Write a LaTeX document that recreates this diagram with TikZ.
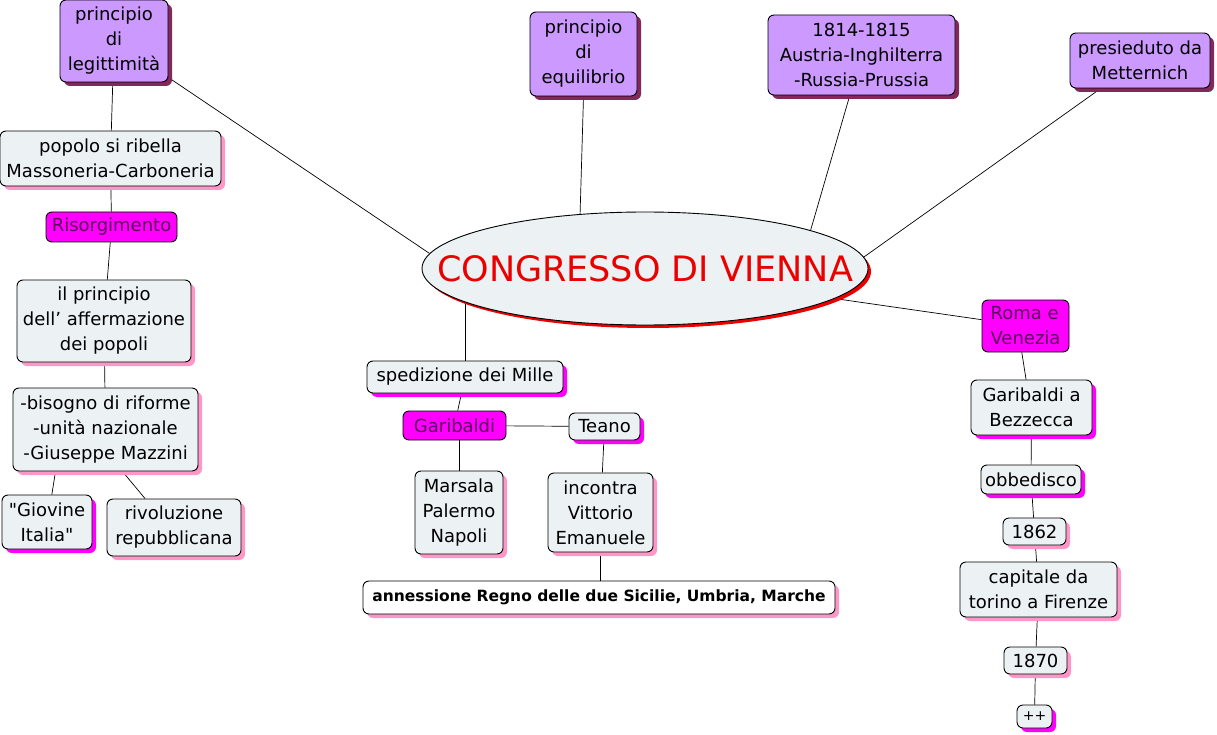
\documentclass[tikz,border=0pt]{standalone}
\usepackage{fontspec}
\setmainfont{DejaVu Sans}
\usepackage{tikz}
\usetikzlibrary{shapes.geometric,shadows,backgrounds}
\definecolor{lilla}{RGB}{204,153,255}
\definecolor{prugna}{RGB}{130,40,90}
\definecolor{ghiaccio}{RGB}{236,242,244}
\definecolor{rosa}{RGB}{255,150,200}
\definecolor{fucsia}{RGB}{255,0,255}
\definecolor{viola}{RGB}{90,0,90}
\definecolor{rosso}{RGB}{235,0,0}

\begin{document}
\begin{tikzpicture}[x=1pt,y=-1pt,
    every node/.style={font=\fontsize{18}{25}\selectfont, align=center, inner sep=0pt},
    box/.style={draw, line width=0.9pt, rounded corners=6pt},
    ombra/.style={drop shadow={shadow xshift=4pt, shadow yshift=-4pt, fill=#1, opacity=1}},
    lillabox/.style={box, fill=lilla, ombra=prugna},
    chiarobox/.style={box, fill=ghiaccio, ombra=rosa},
    fucsiabox/.style={box, fill=ghiaccio, ombra=fucsia},
    chiavebox/.style={box, fill=fucsia, text=viola},
    ramo/.style={line width=0.7pt}]
  \useasboundingbox (0,0) rectangle (1217,735);

  \node [ellipse, draw, line width=0.9pt, fill=ghiaccio, minimum width=446, minimum height=113,
         drop shadow={shadow xshift=3pt, shadow yshift=-3pt, fill=rosso, opacity=1},
         label={[text=rosso, font=\fontsize{35}{40}\selectfont]center:CONGRESSO DI VIENNA}] (vienna) at (645,268.5) {};

  \node [lillabox, minimum width=108, minimum height=82] (legittimita) at (114,41) {principio\\di\\legittimità};
  \node [lillabox, minimum width=107, minimum height=84] (equilibrio) at (583.5,54) {principio\\di\\equilibrio};
  \node [lillabox, minimum width=187, minimum height=80] (potenze) at (861.5,55) {1814-1815\\Austria-Inghilterra\\-Russia-Prussia};
  \node [lillabox, minimum width=140, minimum height=55] (metternich) at (1140,60.5) {presieduto da\\Metternich};

  \node [chiarobox, minimum width=221, minimum height=55] (popolo) at (110.5,158.5) {popolo si ribella\\Massoneria-Carboneria};
  \node [chiavebox, minimum width=131, minimum height=30] (risorgimento) at (111.5,227) {Risorgimento};
  \node [chiarobox, minimum width=174, minimum height=82] (affermazione) at (104,321) {il principio\\dell' affermazione\\dei popoli};
  \node [chiarobox, minimum width=185, minimum height=83] (bisogno) at (105.5,429.5) {-bisogno di riforme\\-unità nazionale\\-Giuseppe Mazzini};
  \node [fucsiabox, minimum width=90, minimum height=54] (giovine) at (47,522) {\textquotedbl Giovine\\Italia\textquotedbl};
  \node [chiarobox, minimum width=134, minimum height=57] (rivoluzione) at (174,527.5) {rivoluzione\\repubblicana};

  \node [fucsiabox, minimum width=196, minimum height=32] (mille) at (465,377) {spedizione dei Mille};
  \node [chiavebox, minimum width=103, minimum height=29] (garibaldi) at (454.5,425.5) {Garibaldi};
  \node [fucsiabox, minimum width=71, minimum height=27] (teano) at (604.5,426.5) {Teano};
  \node [chiarobox, minimum width=88, minimum height=83] (marsala) at (459,512.5) {Marsala\\Palermo\\Napoli};
  \node [chiarobox, minimum width=105, minimum height=79] (incontra) at (600.5,512.5) {incontra\\Vittorio\\Emanuele};
  \node [chiarobox, fill=white, minimum width=472, minimum height=33,
         font=\fontsize{15.5}{20}\selectfont\bfseries] (annessione) at (599,597.5) {annessione Regno delle due Sicilie, Umbria, Marche};

  \node [chiavebox, minimum width=87, minimum height=52, align=left] (roma) at (1025.5,326) {Roma e\\Venezia};
  \node [fucsiabox, minimum width=121, minimum height=55] (bezzecca) at (1031.5,407.5) {Garibaldi a\\Bezzecca};
  \node [fucsiabox, minimum width=100, minimum height=29] (obbedisco) at (1031,479.5) {obbedisco};
  \node [chiarobox, minimum width=63, minimum height=27] (a1862) at (1034.5,531.5) {1862};
  \node [chiarobox, minimum width=157, minimum height=55] (capitale) at (1038.5,589.5) {capitale da\\torino a Firenze};
  \node [chiarobox, minimum width=63, minimum height=27] (a1870) at (1035.5,660.5) {1870};
  \node [fucsiabox, minimum width=35, minimum height=23, font=\fontsize{14}{16}\selectfont] (piu) at (1034.5,716.5) {++};

  \begin{scope}[on background layer]
    \draw [ramo] (vienna.176) -- (legittimita);
    \draw [ramo] (vienna.140) -- (equilibrio.south);
    \draw [ramo] (vienna.13) -- (potenze);
    \draw [ramo] (vienna.3) -- (metternich);
    \draw [ramo] (vienna.-9) -- (roma);
    \draw [ramo] (mille.north) -- (mille.north |- vienna.center);

    \draw [ramo] (legittimita) -- (popolo);
    \draw [ramo] (popolo) -- (risorgimento);
    \draw [ramo] (risorgimento) -- (affermazione);
    \draw [ramo] (affermazione) -- (bisogno);
    \draw [ramo] (bisogno.220) -- (giovine.80);
    \draw [ramo] (bisogno.-68) -- (rivoluzione.135);

    \draw [ramo] (mille) -- (garibaldi);
    \draw [ramo] (garibaldi) -- (teano);
    \draw [ramo] (marsala.north) -- (marsala.north |- garibaldi.south);
    \draw [ramo] (teano) -- (incontra);
    \draw [ramo] (incontra.south) -- (incontra.south |- annessione.north);

    \draw [ramo] (roma.-98) -- (bezzecca.101);
    \draw [ramo] (bezzecca) -- (obbedisco);
    \draw [ramo] (obbedisco) -- (a1862);
    \draw [ramo] (a1862) -- (capitale);
    \draw [ramo] (capitale) -- (a1870);
    \draw [ramo] (a1870) -- (piu);
  \end{scope}
\end{tikzpicture}
\end{document}
